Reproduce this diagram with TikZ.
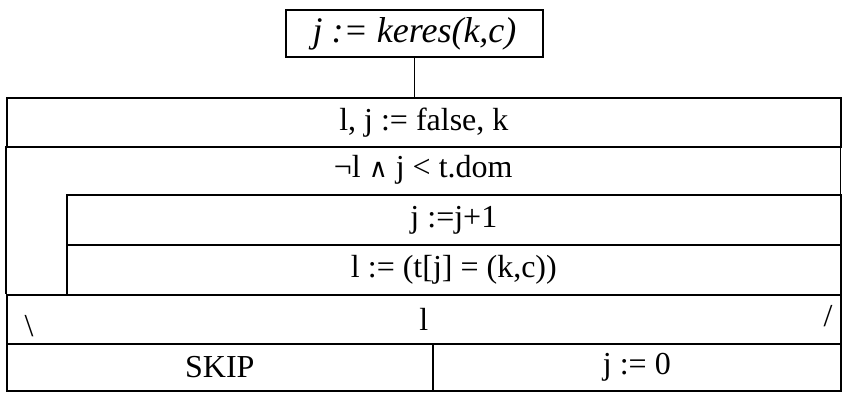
\documentclass[tikz,border=0pt]{standalone}
\usepackage{fontspec}
\setmainfont{Liberation Serif}
\newfontfamily\symf{DejaVu Serif}
\begin{document}
\begin{tikzpicture}[x=1pt,y=-1pt,
  cell/.style={draw, line width=1.7pt, anchor=north west, inner sep=0pt, font=\fontsize{32}{34}\selectfont},
  txt/.style={inner sep=0pt, font=\fontsize{32}{34}\selectfont},
  rule/.style={line width=1.7pt},
  head/.style={draw, line width=1.4pt, inner sep=0pt, font=\fontsize{36}{38}\selectfont\itshape}]
\useasboundingbox (0,0) rectangle (842,393);
% header
\node[head, minimum width=257pt, minimum height=47pt] (hd) at (414.5,33.5) {j := keres(k,c)};
% rows
\node[cell, minimum width=834pt, minimum height=49pt] (r1) at (6,97) {l, j := false, k};
\node[txt, anchor=north west, minimum width=834pt, minimum height=48pt] (r2) at (6,146) {¬l {\symf\fontsize{26}{28}\selectfont ∧} j < t.dom};
\node[cell, minimum width=774pt, minimum height=50pt] (r3) at (66,194) {j :=j+1};
\node[cell, minimum width=774pt, minimum height=50pt] (r4) at (66,244) {l := (t[j] = (k,c))};
\node[cell, minimum width=834pt, minimum height=49pt] (r5) at (6,294) {l};
\node[cell, minimum width=426pt, minimum height=47pt] (r6) at (6,343) {SKIP};
\node[cell, minimum width=408pt, minimum height=47pt] (r7) at (432,343) {j := 0};
% loop borders
\draw[rule] (r2.north west) -- (r5.north west);
\draw[rule] (r2.north east) -- (r2.south east);
% branch marks
\node[txt] (bl) at (29,326) {\textbackslash};
\node[txt] (br) at (828,316) {/};
% connector
\draw[line width=1.4pt] (hd.south) -- (hd.south |- r1.north);
\end{tikzpicture}
\end{document}
